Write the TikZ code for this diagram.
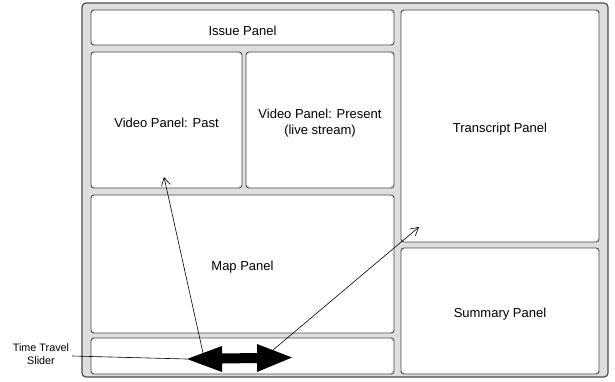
\documentclass[tikz,border=0pt]{standalone}
\usepackage{fontspec}
\setmainfont{Liberation Sans}
\usetikzlibrary{arrows.meta}
\begin{document}
\begin{tikzpicture}[x=1pt,y=-1pt,
  outerbox/.style={draw=black!70, fill=black!13, line width=1.2pt, rounded corners=4pt, inner sep=0pt},
  panel/.style={draw=black!72, fill=white, line width=0.9pt, rounded corners=3pt, inner sep=0pt},
  ptext/.style={align=center, font=\fontsize{13}{15.5}\selectfont, inner sep=0pt, yshift=-3pt},
  thinarrow/.style={-{Straight Barb[length=8pt,width=9pt,line width=0.6pt]}, line width=0.6pt, black},
  lbl/.style={align=center, font=\fontsize{10.8}{13}\selectfont, inner sep=0pt}]
\useasboundingbox (0,0) rectangle (615,381);
\node[outerbox, minimum width=526pt, minimum height=374pt] (outer) at (345,190) {};
\node[panel, minimum width=303pt, minimum height=35pt, label={[ptext]center:Issue Panel}] (issue) at (242.5,27.5) {};
\node[panel, minimum width=151pt, minimum height=136pt, label={[ptext]center:Video Panel: Past}] (past) at (166.5,120) {};
\node[panel, minimum width=148pt, minimum height=136pt, label={[ptext]center:Video Panel: Present\\(live stream)}] (present) at (320,120) {};
\node[panel, minimum width=303pt, minimum height=138pt, label={[ptext]center:Map Panel}] (map) at (242.5,264) {};
\node[panel, minimum width=303pt, minimum height=36pt] (slider) at (242.5,356) {};
\node[panel, minimum width=198pt, minimum height=232pt, label={[ptext]center:Transcript Panel}] (transcript) at (500,126) {};
\node[panel, minimum width=198pt, minimum height=126pt, label={[ptext]center:Summary Panel}] (summary) at (500,311) {};
% double arrow
\fill[black] (187,359) -- (222,346) -- (222,353.5) -- (257,353) -- (257,344) -- (292,357.5) -- (257,372) -- (257,363) -- (222,363.5) -- (222,372) -- cycle;
\coordinate (lefttip) at (187,359);
\coordinate (tailA) at (203,353);
\coordinate (tailB) at (273,350);
\coordinate (headA) at (164,177);
\coordinate (headB) at (419,227);
\draw[thinarrow] (tailA) -- (headA);
\draw[thinarrow] (tailB) -- (headB);
\node[lbl] (tt) at (41,354) {Time Travel\\Slider};
\draw[line width=0.6pt] (72,356) -- (lefttip);
\end{tikzpicture}
\end{document}
